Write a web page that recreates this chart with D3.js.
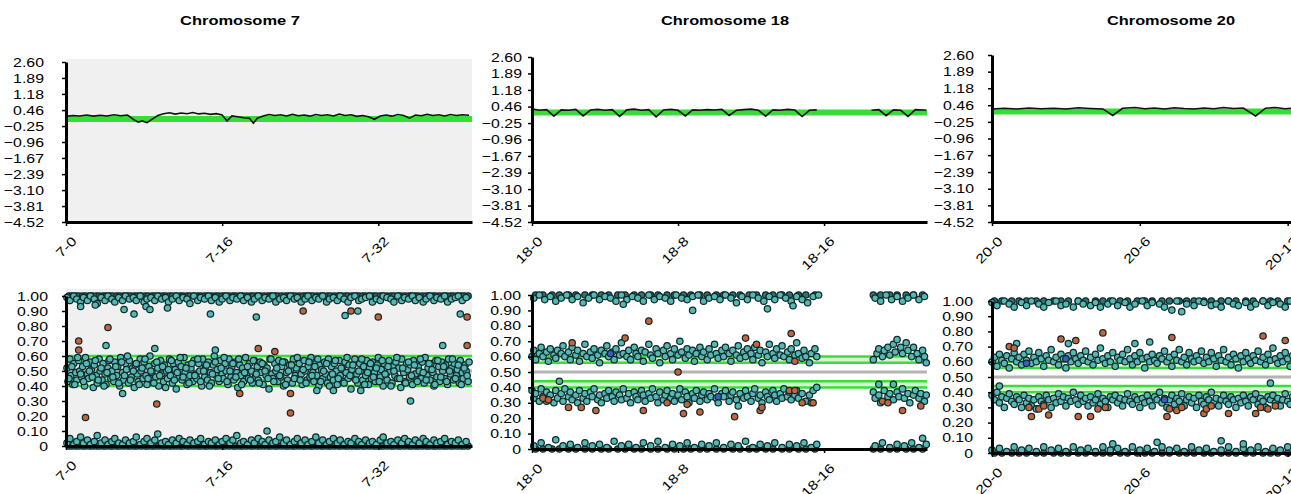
<!DOCTYPE html>
<html>
<head>
<meta charset="utf-8">
<script src="https://cdn.jsdelivr.net/npm/d3@7"></script>
<style>
  body { margin: 0; background: #fff; }
  svg { display: block; }
</style>
</head>
<body>
<svg id="chart" width="1291" height="494"></svg>
<script>
// ---- data ----
const lrrTicks = [2.60, 1.89, 1.18, 0.46, -0.25, -0.96, -1.67, -2.39, -3.10, -3.81, -4.52];
const bafTicks = [0, 0.1, 0.2, 0.3, 0.4, 0.5, 0.6, 0.7, 0.8, 0.9, 1.0];
const bafLines = [0.60, 0.56, 0.44, 0.40];
const bafMid = 0.50;

const chr7Ticks = [0, 16, 32];
const chr18Ticks = [0, 8, 16];
const chr20Ticks = [0, 6, 12];

// segment means (green) in the log-ratio panels
const chr7Seg = 0.06, chr18Seg = 0.20, chr20Seg = 0.19;

// log ratio traces [position, value]; null = no probes
const chr7Lrr = [[0,.18],[0.7,.22],[1.4,.2],[2.1,.24],[2.8,.19],[3.5,.23],[4.2,.2],[4.9,.25],[5.6,.21],[6.3,.24],[7.0,.02],[7.4,-.08],[7.8,-.02],[8.3,-.1],[8.8,.05],[9.4,.22],[10.0,.3],[10.6,.34],[11.2,.28],[11.8,.33],[12.4,.3],[13.0,.35],[13.6,.29],[14.2,.32],[14.8,.27],[15.4,.3],[16.0,.24],[16.5,-.03],[17.0,.2],[17.6,.16],[18.2,.12],[18.8,.1],[19.2,-.12],[19.6,.1],[20.2,.2],[20.8,.26],[21.4,.22],[22.0,.25],[22.6,.2],[23.2,.27],[23.8,.21],[24.4,.24],[25.0,.19],[25.6,.26],[26.2,.22],[26.8,.25],[27.4,.2],[28.0,.28],[28.6,.22],[29.2,.25],[29.8,.18],[30.4,.22],[31.0,.16],[31.6,.05],[32.2,.2],[32.8,.24],[33.4,.19],[34.0,.26],[34.6,.22],[35.2,.1],[35.8,.24],[36.4,.21],[37.0,.27],[37.6,.22],[38.2,.25],[38.8,.2],[39.4,.26],[40.0,.22],[40.6,.25],[41.3,.23]];
const chr18Lrr = [[0,.36],[0.4,.3],[0.8,.33],[1.2,.05],[1.6,.32],[2.0,.3],[2.4,.34],[2.8,.06],[3.2,.31],[3.6,.34],[4.0,.3],[4.4,.33],[4.8,.04],[5.2,.32],[5.6,.35],[6.0,.3],[6.4,.33],[6.8,.02],[7.2,.31],[7.6,.34],[8.0,.3],[8.4,.06],[8.8,.32],[9.2,.3],[9.6,.33],[10.0,.31],[10.4,.34],[10.8,.08],[11.2,.3],[11.6,.33],[12.0,.35],[12.4,.3],[12.8,.05],[13.2,.32],[13.6,.3],[14.0,.34],[14.4,.31],[14.8,.03],[15.2,.3],[15.6,.32],[15.7,null],[18.6,.3],[19.0,.33],[19.4,.07],[19.8,.32],[20.2,.3],[20.6,.04],[21.0,.33],[21.4,.31],[21.6,.3]];
const chr20Lrr = [[0,.3],[0.5,.33],[1.0,.3],[1.5,.34],[2.0,.31],[2.5,.33],[3.0,.3],[3.5,.35],[4.0,.32],[4.5,.3],[4.9,.02],[5.3,.33],[5.8,.36],[6.2,.31],[6.6,.34],[7.0,.3],[7.4,.35],[7.8,.32],[8.2,.3],[8.6,.34],[9.0,.31],[9.4,.36],[9.8,.32],[10.2,.34],[10.7,.0],[11.1,.33],[11.5,.36],[11.9,.31],[12.3,.34],[12.5,.32]];

// B-allele frequency, chromosome 7 [position, baf]
const chr7Hom = [0.3,0.6,1.0,1.3,1.7,2.0,2.4,2.7,3.1,3.4,3.8,4.1,4.5,4.8,5.2,5.5,5.9,6.3,6.6,7.0,7.3,7.7,8.1,8.4,8.8,9.1,9.5,9.9,10.2,10.6,10.9,11.3,11.7,12.0,12.4,12.7,13.1,13.5,13.8,14.2,14.5,14.9,15.3,15.6,16.0,16.3,16.7,17.1,17.4,17.8,18.1,18.5,18.9,19.2,19.6,19.9,20.3,20.7,21.0,21.4,21.7,22.1,22.5,22.8,23.2,23.5,23.9,24.3,24.6,25.0,25.3,25.7,26.1,26.4,26.8,27.1,27.5,27.9,28.2,28.6,28.9,29.3,29.7,30.0,30.4,30.7,31.1,31.5,31.8,32.2,32.5,32.9,33.3,33.6,34.0,34.3,34.7,35.1,35.4,35.8,36.1,36.5,36.9,37.2,37.6,37.9,38.3,38.7,39.0,39.4,39.7,40.1,40.5,40.8,41.2];
const chr7Top = [[0.1,.99],[0.4,.97],[0.8,1],[1.1,.98],[1.5,.96],[1.8,.99],[2.2,.97],[2.5,1],[2.9,.98],[3.2,.95],[3.6,.99],[4.0,.97],[4.3,1],[4.7,.98],[5.0,.96],[5.4,.99],[5.8,.97],[6.1,1],[6.5,.98],[6.9,.99],[7.2,.97],[7.6,1],[8.0,.96],[8.3,.98],[8.7,.99],[9.1,.97],[9.4,1],[9.8,.98],[10.2,.99],[10.5,.96],[10.9,.98],[11.3,1],[11.6,.97],[12.0,.99],[12.4,.98],[12.7,.95],[13.1,1],[13.5,.97],[13.8,.99],[14.2,.98],[14.6,1],[14.9,.97],[15.3,.99],[15.7,.96],[16.0,.98],[16.4,1],[16.8,.97],[17.1,.99],[17.5,.98],[17.9,1],[18.2,.97],[18.6,.99],[19.0,.96],[19.3,.98],[19.7,1],[20.1,.97],[20.4,.99],[20.8,.98],[21.2,1],[21.5,.96],[21.9,.98],[22.3,.99],[22.6,.97],[23.0,1],[23.4,.98],[23.7,.99],[24.1,.96],[24.5,.98],[24.8,1],[25.2,.97],[25.6,.99],[25.9,.98],[26.3,1],[26.7,.96],[27.0,.98],[27.4,.99],[27.8,.97],[28.1,1],[28.5,.98],[28.9,.96],[29.2,.99],[29.6,1],[30.0,.97],[30.3,.98],[30.7,.99],[31.1,1],[31.4,.96],[31.8,.98],[32.2,.97],[32.5,1],[32.9,.99],[33.3,.98],[33.6,.96],[34.0,1],[34.4,.97],[34.7,.99],[35.1,.98],[35.5,1],[35.8,.97],[36.2,.99],[36.6,.96],[36.9,.98],[37.3,1],[37.7,.97],[38.0,.99],[38.4,.98],[38.8,1],[39.1,.96],[39.5,.98],[39.9,.99],[40.2,1],[40.6,.97],[41.0,.99]];
const chr7Het = [[0.1,.52],[0.2,.43],[0.4,.58],[0.5,.47],[0.7,.41],[0.8,.55],[1.0,.49],[1.1,.44],[1.3,.57],[1.4,.5],[1.6,.46],[1.7,.53],[1.9,.4],[2.0,.59],[2.2,.48],[2.3,.45],[2.5,.56],[2.6,.51],[2.8,.39],[2.9,.54],[3.1,.47],[3.2,.42],[3.4,.58],[3.5,.5],[3.7,.44],[3.8,.55],[4.0,.48],[4.1,.41],[4.3,.52],[4.4,.57],[4.6,.45],[4.7,.5],[4.9,.43],[5.0,.56],[5.2,.47],[5.3,.53],[5.5,.4],[5.6,.59],[5.8,.49],[5.9,.44],[6.1,.55],[6.2,.51],[6.4,.42],[6.5,.57],[6.7,.46],[6.8,.52],[7.0,.39],[7.1,.54],[7.3,.48],[7.4,.43],[7.6,.58],[7.7,.5],[7.9,.45],[8.0,.56],[8.2,.47],[8.3,.41],[8.5,.53],[8.6,.6],[8.8,.49],[8.9,.44],[9.1,.55],[9.2,.46],[9.4,.52],[9.5,.4],[9.7,.57],[9.8,.48],[10.0,.43],[10.1,.54],[10.3,.5],[10.4,.45],[10.6,.58],[10.7,.47],[10.9,.42],[11.0,.55],[11.2,.51],[11.3,.38],[11.5,.56],[11.6,.46],[11.8,.53],[11.9,.44],[12.1,.59],[12.2,.49],[12.4,.41],[12.5,.54],[12.7,.47],[12.8,.52],[13.0,.43],[13.1,.57],[13.3,.48],[13.4,.45],[13.6,.55],[13.7,.5],[13.9,.4],[14.0,.58],[14.2,.46],[14.3,.53],[14.5,.44],[14.6,.56],[14.8,.49],[14.9,.42],[15.1,.54],[15.2,.6],[15.4,.47],[15.5,.51],[15.7,.43],[15.8,.57],[16.0,.48],[16.1,.45],[16.3,.55],[16.4,.5],[16.6,.41],[16.7,.58],[16.9,.46],[17.0,.53],[17.2,.44],[17.3,.56],[17.5,.49],[17.6,.39],[17.8,.54],[17.9,.47],[18.1,.52],[18.2,.43],[18.4,.59],[18.5,.48],[18.7,.45],[18.8,.55],[19.0,.5],[19.1,.42],[19.3,.57],[19.4,.46],[19.6,.53],[19.7,.44],[19.9,.56],[20.0,.49],[20.2,.41],[20.3,.54],[20.5,.47],[20.6,.52],[20.8,.38],[20.9,.58],[21.1,.48],[21.2,.45],[21.4,.55],[21.5,.5],[21.7,.43],[21.8,.57],[22.0,.46],[22.1,.53],[22.3,.4],[22.4,.56],[22.6,.49],[22.7,.44],[22.9,.54],[23.0,.51],[23.2,.42],[23.3,.58],[23.5,.47],[23.6,.52],[23.8,.45],[23.9,.55],[24.1,.48],[24.2,.41],[24.4,.57],[24.5,.5],[24.7,.44],[24.8,.53],[25.0,.46],[25.1,.59],[25.3,.49],[25.4,.43],[25.6,.55],[25.7,.47],[25.9,.4],[26.0,.54],[26.2,.51],[26.3,.45],[26.5,.56],[26.6,.48],[26.8,.42],[26.9,.58],[27.1,.46],[27.2,.53],[27.4,.44],[27.5,.55],[27.7,.5],[27.8,.41],[28.0,.57],[28.1,.47],[28.3,.52],[28.4,.43],[28.6,.56],[28.7,.49],[28.9,.45],[29.0,.54],[29.2,.38],[29.3,.51],[29.5,.46],[29.6,.58],[29.8,.48],[29.9,.42],[30.1,.55],[30.2,.5],[30.4,.44],[30.5,.53],[30.7,.47],[30.8,.57],[31.0,.41],[31.1,.52],[31.3,.45],[31.4,.56],[31.6,.49],[31.7,.43],[31.9,.54],[32.0,.59],[32.2,.46],[32.3,.51],[32.5,.4],[32.6,.55],[32.8,.48],[32.9,.44],[33.1,.57],[33.2,.5],[33.4,.42],[33.5,.53],[33.7,.47],[33.8,.56],[34.0,.45],[34.1,.52],[34.3,.39],[34.4,.58],[34.6,.49],[34.7,.43],[34.9,.55],[35.0,.51],[35.2,.46],[35.3,.54],[35.5,.41],[35.6,.57],[35.8,.48],[35.9,.44],[36.1,.53],[36.2,.5],[36.4,.45],[36.5,.56],[36.7,.42],[36.8,.59],[37.0,.47],[37.1,.52],[37.3,.44],[37.4,.55],[37.6,.49],[37.7,.4],[37.9,.57],[38.0,.46],[38.2,.53],[38.3,.43],[38.5,.56],[38.6,.5],[38.8,.45],[38.9,.54],[39.1,.41],[39.2,.58],[39.4,.48],[39.5,.52],[39.7,.44],[39.8,.55],[40.0,.47],[40.1,.51],[40.3,.42],[40.4,.57],[40.6,.49],[40.7,.45],[40.9,.54],[41.0,.5],[41.2,.43],[41.3,.56]];
const chr7Het2 = [[0.3,.45],[0.6,.53],[0.9,.41],[1.2,.59],[1.5,.48],[1.8,.43],[2.1,.55],[2.4,.5],[2.7,.46],[3.0,.57],[3.3,.44],[3.6,.52],[3.9,.4],[4.2,.49],[4.5,.58],[4.8,.46],[5.1,.53],[5.4,.42],[5.7,.56],[6.0,.47],[6.3,.6],[6.6,.44],[6.9,.5],[7.2,.55],[7.5,.41],[7.8,.52],[8.1,.58],[8.4,.45],[8.7,.5],[9.0,.42],[9.3,.56],[9.6,.47],[9.9,.53],[10.2,.39],[10.5,.51],[10.8,.57],[11.1,.44],[11.4,.49],[11.7,.59],[12.0,.46],[12.3,.52],[12.6,.42],[12.9,.55],[13.2,.47],[13.5,.58],[13.8,.43],[14.1,.5],[14.4,.54],[14.7,.4],[15.0,.48],[15.3,.56],[15.6,.45],[15.9,.52],[16.2,.59],[16.5,.43],[16.8,.5],[17.1,.55],[17.4,.46],[17.7,.58],[18.0,.41],[18.3,.49],[18.6,.53],[18.9,.44],[19.2,.57],[19.5,.48],[19.8,.42],[20.1,.55],[20.4,.5],[20.7,.45],[21.0,.58],[21.3,.43],[21.6,.52],[21.9,.47],[22.2,.56],[22.5,.41],[22.8,.5],[23.1,.54],[23.4,.45],[23.7,.59],[24.0,.44],[24.3,.51],[24.6,.42],[24.9,.56],[25.2,.47],[25.5,.53],[25.8,.58],[26.1,.43],[26.4,.5],[26.7,.55],[27.0,.4],[27.3,.48],[27.6,.57],[27.9,.45],[28.2,.52],[28.5,.42],[28.8,.59],[29.1,.47],[29.4,.54],[29.7,.44],[30.0,.5],[30.3,.58],[30.6,.41],[30.9,.49],[31.2,.55],[31.5,.46],[31.8,.52],[32.1,.43],[32.4,.57],[32.7,.48],[33.0,.53],[33.3,.4],[33.6,.5],[33.9,.59],[34.2,.45],[34.5,.52],[34.8,.42],[35.1,.56],[35.4,.47],[35.7,.54],[36.0,.43],[36.3,.58],[36.6,.49],[36.9,.44],[37.2,.55],[37.5,.51],[37.8,.41],[38.1,.57],[38.4,.46],[38.7,.53],[39.0,.43],[39.3,.5],[39.6,.58],[39.9,.45],[40.2,.54],[40.5,.41],[40.8,.52],[41.1,.47]];
const chr7Bot = [[0.1,.02],[0.4,.05],[0.8,.01],[1.1,.03],[1.5,.06],[1.8,.02],[2.2,.04],[2.5,.01],[2.9,.03],[3.2,.07],[3.6,.02],[4.0,.04],[4.3,.01],[4.7,.03],[5.0,.05],[5.4,.02],[5.8,.01],[6.1,.04],[6.5,.02],[6.9,.03],[7.2,.06],[7.6,.01],[8.0,.03],[8.3,.05],[8.7,.02],[9.1,.04],[9.4,.08],[9.8,.02],[10.2,.03],[10.5,.01],[10.9,.04],[11.3,.02],[11.6,.05],[12.0,.03],[12.4,.01],[12.7,.04],[13.1,.02],[13.5,.03],[13.8,.05],[14.2,.01],[14.6,.03],[14.9,.02],[15.3,.04],[15.7,.01],[16.0,.03],[16.4,.05],[16.8,.02],[17.1,.04],[17.5,.07],[17.9,.02],[18.2,.03],[18.6,.01],[19.0,.04],[19.3,.02],[19.7,.05],[20.1,.03],[20.4,.01],[20.8,.04],[21.2,.02],[21.5,.03],[21.9,.06],[22.3,.02],[22.6,.04],[23.0,.01],[23.4,.03],[23.7,.05],[24.1,.02],[24.5,.04],[24.8,.01],[25.2,.03],[25.6,.06],[25.9,.02],[26.3,.04],[26.7,.01],[27.0,.03],[27.4,.05],[27.8,.02],[28.1,.04],[28.5,.01],[28.9,.03],[29.2,.02],[29.6,.05],[30.0,.03],[30.3,.01],[30.7,.04],[31.1,.02],[31.4,.03],[31.8,.01],[32.2,.04],[32.5,.06],[32.9,.02],[33.3,.03],[33.6,.01],[34.0,.04],[34.4,.02],[34.7,.05],[35.1,.03],[35.5,.01],[35.8,.04],[36.2,.02],[36.6,.05],[36.9,.03],[37.3,.01],[37.7,.04],[38.0,.02],[38.4,.03],[38.8,.05],[39.1,.01],[39.5,.03],[39.9,.02],[40.2,.04],[40.6,.01],[41.0,.03]];
const chr7Out = [[5.95,.91,'t'],[6.97,.88,'t'],[14.8,.88,'t'],[19.5,.86,'t'],[24.3,.9,'r'],[28.6,.87,'t'],[29.2,.9,'r'],[29.9,.9,'t'],[32.0,.86,'r'],[40.4,.88,'t'],[41.1,.86,'r'],[1.3,.7,'r'],[1.3,.64,'r'],[4.3,.79,'r'],[2.0,.19,'r'],[9.3,.28,'r'],[19.7,.65,'r'],[21.4,.63,'r'],[23.0,.35,'r'],[23.0,.22,'r'],[17.8,.35,'r'],[41.1,.67,'r'],[4.1,.67,'t'],[5.8,.35,'t'],[9.1,.65,'t'],[15.3,.64,'t'],[35.3,.3,'t'],[38.6,.67,'t'],[20.6,.1,'t'],[25.7,.37,'t'],[27.4,.37,'t'],[30.2,.37,'t'],[1.5,.93,'t'],[3.0,.94,'t'],[8.2,.93,'t'],[8.6,.91,'t'],[10.4,.92,'t']];

// chromosome 18
const chr18Hom = [0.2,0.6,1.1,1.5,2.0,2.4,2.9,3.3,3.8,4.2,4.7,5.1,5.6,6.0,6.5,6.9,7.4,7.8,8.3,8.7,9.2,9.6,10.1,10.5,11.0,11.4,11.9,12.3,12.8,13.2,13.7,14.1,14.6,15.0,15.5,18.7,19.1,19.6,20.0,20.5,20.9,21.4];
const chr18Top = [[0.1,.98],[0.4,1],[0.7,.97],[1.0,.99],[1.3,.96],[1.6,.98],[1.9,1],[2.2,.97],[2.5,.99],[2.8,.95],[3.1,.98],[3.4,1],[3.7,.97],[4.0,.99],[4.3,.98],[4.6,.96],[4.9,1],[5.2,.97],[5.5,.99],[5.8,.98],[6.1,.96],[6.4,1],[6.7,.97],[7.0,.99],[7.3,.98],[7.6,.96],[7.9,1],[8.2,.98],[8.5,.97],[8.8,.99],[9.1,1],[9.4,.96],[9.7,.98],[10.0,.99],[10.3,.97],[10.6,1],[10.9,.98],[11.2,.95],[11.5,.99],[11.8,.97],[12.1,1],[12.4,.98],[12.7,.96],[13.0,.99],[13.3,.97],[13.6,1],[13.9,.98],[14.2,.96],[14.5,.99],[14.8,.97],[15.1,.95],[15.4,.99],[15.7,1],[18.8,.98],[19.1,.96],[19.4,1],[19.7,.97],[20.0,.99],[20.3,.96],[20.6,.98],[20.9,1],[21.2,.97],[21.5,.99]];
const chr18Up = [[0.0,.6],[0.1,.64],[0.2,.58],[0.4,.62],[0.5,.66],[0.6,.6],[0.8,.63],[0.9,.57],[1.0,.65],[1.2,.61],[1.3,.59],[1.4,.64],[1.6,.62],[1.7,.67],[1.8,.6],[2.0,.63],[2.1,.58],[2.2,.66],[2.4,.61],[2.5,.64],[2.6,.57],[2.8,.62],[2.9,.68],[3.0,.6],[3.2,.63],[3.3,.59],[3.4,.65],[3.6,.61],[3.7,.56],[3.8,.64],[4.0,.62],[4.1,.67],[4.2,.6],[4.4,.63],[4.5,.58],[4.6,.65],[4.8,.61],[4.9,.69],[5.0,.62],[5.2,.6],[5.3,.64],[5.4,.58],[5.6,.66],[5.7,.62],[5.8,.6],[6.0,.64],[6.1,.57],[6.2,.63],[6.4,.68],[6.5,.61],[6.6,.59],[6.8,.65],[6.9,.62],[7.0,.56],[7.2,.64],[7.3,.6],[7.4,.67],[7.6,.62],[7.7,.58],[7.8,.65],[8.0,.61],[8.1,.7],[8.2,.63],[8.4,.59],[8.5,.65],[8.6,.61],[8.8,.64],[8.9,.57],[9.0,.62],[9.2,.66],[9.3,.6],[9.4,.63],[9.6,.58],[9.7,.65],[9.8,.61],[10.0,.68],[10.1,.62],[10.2,.59],[10.4,.64],[10.5,.6],[10.6,.66],[10.8,.62],[10.9,.57],[11.0,.64],[11.2,.61],[11.3,.67],[11.4,.59],[11.6,.63],[11.7,.6],[11.8,.65],[12.0,.62],[12.1,.58],[12.2,.66],[12.4,.61],[12.5,.64],[12.6,.56],[12.8,.63],[12.9,.6],[13.0,.68],[13.2,.62],[13.3,.59],[13.4,.65],[13.6,.61],[13.7,.67],[13.8,.6],[14.0,.63],[14.1,.58],[14.2,.65],[14.4,.61],[14.5,.69],[14.6,.62],[14.8,.59],[14.9,.64],[15.0,.6],[15.2,.56],[15.3,.62],[15.5,.65],[15.6,.6],[18.7,.58],[18.9,.62],[19.0,.65],[19.2,.6],[19.3,.64],[19.5,.66],[19.6,.61],[19.8,.68],[19.9,.63],[20.0,.71],[20.2,.66],[20.3,.62],[20.5,.69],[20.6,.64],[20.8,.6],[20.9,.66],[21.1,.62],[21.2,.58],[21.4,.64],[21.5,.6],[21.6,.56]];
const chr18Lo = [[0.0,.38],[0.1,.33],[0.2,.36],[0.4,.31],[0.5,.39],[0.6,.34],[0.8,.37],[0.9,.32],[1.0,.35],[1.2,.3],[1.3,.38],[1.4,.33],[1.6,.36],[1.7,.31],[1.8,.39],[2.0,.34],[2.1,.37],[2.2,.32],[2.4,.35],[2.5,.3],[2.6,.38],[2.8,.33],[2.9,.36],[3.0,.31],[3.2,.37],[3.3,.34],[3.4,.39],[3.6,.32],[3.7,.35],[3.8,.3],[4.0,.36],[4.1,.33],[4.2,.38],[4.4,.34],[4.5,.31],[4.6,.37],[4.8,.35],[4.9,.32],[5.0,.39],[5.2,.33],[5.3,.36],[5.4,.3],[5.6,.37],[5.7,.34],[5.8,.32],[6.0,.38],[6.1,.35],[6.2,.31],[6.4,.36],[6.5,.33],[6.6,.39],[6.8,.34],[6.9,.3],[7.0,.37],[7.2,.32],[7.3,.35],[7.4,.38],[7.6,.33],[7.7,.36],[7.8,.31],[8.0,.35],[8.1,.39],[8.2,.32],[8.4,.37],[8.5,.34],[8.6,.3],[8.8,.36],[8.9,.33],[9.0,.38],[9.2,.31],[9.3,.35],[9.4,.37],[9.6,.32],[9.7,.36],[9.8,.34],[10.0,.39],[10.1,.33],[10.2,.3],[10.4,.36],[10.5,.34],[10.6,.38],[10.8,.31],[10.9,.35],[11.0,.37],[11.2,.32],[11.3,.28],[11.4,.36],[11.6,.33],[11.7,.38],[11.8,.34],[12.0,.31],[12.1,.36],[12.2,.39],[12.4,.33],[12.5,.35],[12.6,.3],[12.8,.37],[12.9,.34],[13.0,.32],[13.2,.38],[13.3,.35],[13.4,.31],[13.6,.36],[13.7,.33],[13.8,.39],[14.0,.34],[14.1,.37],[14.2,.32],[14.4,.35],[14.5,.38],[14.6,.33],[14.8,.36],[15.0,.31],[15.2,.35],[15.4,.38],[15.6,.4],[18.7,.37],[18.8,.33],[19.0,.35],[19.1,.3],[19.3,.38],[19.5,.34],[19.6,.36],[19.8,.32],[20.0,.37],[20.1,.34],[20.3,.39],[20.4,.33],[20.6,.36],[20.7,.3],[20.9,.35],[21.0,.38],[21.2,.33],[21.3,.36],[21.5,.31],[21.6,.35]];
const chr18Bot = [[0.1,.02],[0.5,.04],[0.9,.01],[1.3,.06],[1.7,.02],[2.1,.03],[2.5,.01],[2.9,.04],[3.3,.02],[3.7,.03],[4.1,.01],[4.5,.05],[4.9,.02],[5.3,.03],[5.7,.01],[6.1,.04],[6.5,.02],[6.9,.05],[7.3,.01],[7.7,.03],[8.1,.02],[8.5,.04],[8.9,.01],[9.3,.03],[9.7,.02],[10.1,.04],[10.5,.01],[10.9,.03],[11.3,.02],[11.7,.05],[12.1,.01],[12.5,.03],[12.9,.02],[13.3,.04],[13.7,.01],[14.1,.03],[14.5,.02],[14.9,.04],[15.3,.01],[15.6,.03],[18.8,.02],[19.2,.04],[19.6,.01],[20.0,.03],[20.4,.02],[20.8,.04],[21.2,.01],[21.6,.03]];
const chr18Out = [[5.0,.94,'t'],[6.4,.83,'r'],[8.8,.9,'t'],[12.9,.91,'t'],[14.3,.93,'t'],[14.2,.75,'r'],[8.0,.5,'r'],[1.5,.44,'t'],[11.1,.21,'r'],[12.5,.25,'r'],[12.6,.27,'r'],[21.4,.07,'t'],[19.0,.42,'t'],[19.8,.42,'t'],[0.8,.31,'r'],[2.0,.27,'r'],[2.7,.27,'r'],[3.5,.25,'r'],[6.1,.25,'r'],[8.3,.23,'r'],[9.2,.24,'r'],[20.3,.25,'r'],[21.3,.28,'r'],[14.8,.3,'r'],[14.1,.38,'r'],[14.4,.38,'r'],[2.2,.69,'r'],[5.1,.72,'r'],[11.7,.72,'r'],[12.3,.68,'r'],[14.4,.57,'r'],[0.6,.33,'r'],[0.9,.32,'r'],[7.4,.3,'r'],[8.5,.29,'r'],[15.3,.3,'r'],[15.4,.3,'r'],[19.2,.31,'r'],[19.5,.3,'r'],[4.3,.62,'b'],[10.2,.34,'b']];

// chromosome 20
const chr20Hom = [0.1,0.4,0.8,1.1,1.4,1.8,2.1,2.5,2.8,3.1,3.5,3.8,4.2,4.5,4.8,5.2,5.5,5.9,6.2,6.5,6.9,7.2,7.6,7.9,8.2,8.6,8.9,9.3,9.6,9.9,10.3,10.6,11.0,11.3,11.6,12.0,12.3];
const chr20Top = [[0.0,.99],[0.2,.97],[0.5,1],[0.7,.98],[0.9,.96],[1.2,.99],[1.4,.97],[1.6,1],[1.9,.98],[2.1,.96],[2.3,.99],[2.6,1],[2.8,.97],[3.0,.98],[3.3,.96],[3.5,1],[3.7,.98],[4.0,.97],[4.2,.99],[4.4,.96],[4.7,.98],[4.9,1],[5.1,.97],[5.4,.99],[5.6,.96],[5.8,.98],[6.1,1],[6.3,.97],[6.5,.99],[6.8,.98],[7.0,.96],[7.3,.94],[7.5,1],[7.7,.93],[7.9,.98],[8.2,.97],[8.4,1],[8.6,.99],[8.9,.97],[9.1,.98],[9.3,.96],[9.6,1],[9.8,.98],[10.0,.97],[10.3,.99],[10.5,.96],[10.7,.98],[11.0,1],[11.2,.97],[11.4,.99],[11.7,.98],[11.9,.96],[12.1,1],[12.4,.97]];
const chr20Up = [[0.0,.6],[0.1,.63],[0.2,.57],[0.3,.65],[0.4,.61],[0.5,.59],[0.6,.64],[0.7,.56],[0.8,.62],[0.9,.66],[1.0,.6],[1.1,.63],[1.2,.58],[1.3,.65],[1.4,.61],[1.5,.67],[1.6,.59],[1.7,.63],[1.8,.6],[1.9,.66],[2.0,.62],[2.1,.57],[2.2,.64],[2.3,.61],[2.4,.68],[2.5,.6],[2.6,.63],[2.7,.58],[2.8,.65],[2.9,.62],[3.0,.56],[3.1,.64],[3.2,.6],[3.3,.66],[3.4,.62],[3.5,.59],[3.6,.64],[3.7,.61],[3.8,.67],[3.9,.6],[4.0,.63],[4.1,.58],[4.2,.65],[4.3,.61],[4.4,.69],[4.5,.62],[4.6,.59],[4.7,.64],[4.8,.6],[4.9,.66],[5.0,.57],[5.1,.63],[5.2,.61],[5.3,.65],[5.4,.6],[5.5,.68],[5.6,.62],[5.7,.58],[5.8,.64],[5.9,.6],[6.0,.66],[6.1,.62],[6.2,.56],[6.3,.63],[6.4,.6],[6.5,.65],[6.6,.61],[6.7,.59],[6.8,.64],[6.9,.62],[7.0,.67],[7.1,.6],[7.2,.63],[7.3,.57],[7.4,.65],[7.5,.61],[7.6,.68],[7.7,.6],[7.8,.63],[7.9,.58],[8.0,.66],[8.1,.62],[8.2,.6],[8.3,.64],[8.4,.61],[8.5,.67],[8.6,.59],[8.7,.63],[8.8,.6],[8.9,.66],[9.0,.62],[9.1,.57],[9.2,.64],[9.3,.61],[9.4,.68],[9.5,.6],[9.6,.63],[9.7,.58],[9.8,.65],[9.9,.62],[10.0,.56],[10.1,.64],[10.2,.6],[10.3,.66],[10.4,.62],[10.5,.59],[10.6,.64],[10.7,.61],[10.8,.67],[10.9,.6],[11.0,.63],[11.1,.58],[11.2,.65],[11.3,.61],[11.4,.69],[11.5,.62],[11.6,.59],[11.7,.64],[11.8,.6],[11.9,.66],[12.0,.62],[12.1,.57],[12.2,.64],[12.3,.61],[12.4,.65],[12.5,.6]];
const chr20Lo = [[0.0,.38],[0.1,.35],[0.2,.4],[0.3,.33],[0.4,.37],[0.5,.3],[0.6,.36],[0.7,.39],[0.8,.34],[0.9,.32],[1.0,.37],[1.1,.35],[1.2,.3],[1.3,.38],[1.4,.33],[1.5,.36],[1.6,.31],[1.7,.35],[1.8,.29],[1.9,.37],[2.0,.34],[2.1,.32],[2.2,.38],[2.3,.35],[2.4,.3],[2.5,.36],[2.6,.33],[2.7,.39],[2.8,.34],[2.9,.37],[3.0,.31],[3.1,.36],[3.2,.34],[3.3,.4],[3.4,.35],[3.5,.32],[3.6,.38],[3.7,.34],[3.8,.36],[3.9,.31],[4.0,.37],[4.1,.33],[4.2,.35],[4.3,.39],[4.4,.32],[4.5,.36],[4.6,.34],[4.7,.3],[4.8,.37],[4.9,.35],[5.0,.38],[5.1,.33],[5.2,.36],[5.3,.31],[5.4,.35],[5.5,.39],[5.6,.34],[5.7,.32],[5.8,.37],[5.9,.35],[6.0,.3],[6.1,.36],[6.2,.33],[6.3,.38],[6.4,.34],[6.5,.31],[6.6,.37],[6.7,.35],[6.8,.4],[6.9,.33],[7.0,.36],[7.1,.3],[7.2,.35],[7.3,.38],[7.4,.32],[7.5,.36],[7.6,.34],[7.7,.39],[7.8,.31],[7.9,.35],[8.0,.37],[8.1,.33],[8.2,.36],[8.3,.3],[8.4,.38],[8.5,.34],[8.6,.32],[8.7,.37],[8.8,.35],[8.9,.4],[9.0,.33],[9.1,.36],[9.2,.31],[9.3,.35],[9.4,.38],[9.5,.34],[9.6,.32],[9.7,.37],[9.8,.35],[9.9,.3],[10.0,.36],[10.1,.33],[10.2,.38],[10.3,.34],[10.4,.31],[10.5,.37],[10.6,.35],[10.7,.39],[10.8,.32],[10.9,.36],[11.0,.34],[11.1,.3],[11.2,.37],[11.3,.35],[11.4,.38],[11.5,.33],[11.6,.36],[11.7,.31],[11.8,.35],[11.9,.39],[12.0,.34],[12.1,.32],[12.2,.37],[12.3,.35],[12.4,.4],[12.5,.33]];
const chr20Bot = [[0.0,.02],[0.3,.03],[0.6,.01],[0.9,.04],[1.2,.02],[1.5,.03],[1.8,.01],[2.1,.04],[2.4,.02],[2.7,.03],[3.0,.01],[3.3,.04],[3.6,.02],[3.9,.03],[4.2,.01],[4.5,.04],[4.8,.02],[5.1,.03],[5.4,.01],[5.7,.04],[6.0,.02],[6.3,.03],[6.6,.01],[6.9,.04],[7.2,.02],[7.5,.03],[7.8,.01],[8.1,.04],[8.4,.02],[8.7,.03],[9.0,.01],[9.3,.02],[9.6,.04],[9.9,.01],[10.2,.03],[10.5,.02],[10.8,.04],[11.1,.01],[11.4,.03],[11.7,.02],[12.0,.04],[12.3,.01]];
const chr20Out = [[0.7,.7,'r'],[2.8,.75,'r'],[4.5,.79,'r'],[7.3,.76,'r'],[11.0,.77,'r'],[11.9,.74,'r'],[6.4,.73,'t'],[3.5,.24,'r'],[4.0,.24,'r'],[1.6,.24,'r'],[2.3,.25,'r'],[7.1,.24,'r'],[9.6,.26,'r'],[10.7,.26,'r'],[8.6,.26,'r'],[1.5,.3,'r'],[1.9,.29,'r'],[2.1,.31,'r'],[4.3,.29,'r'],[4.6,.3,'r'],[7.2,.29,'r'],[7.5,.28,'r'],[7.7,.3,'r'],[8.7,.29,'r'],[8.9,.31,'r'],[10.9,.3,'r'],[11.2,.29,'r'],[11.5,.31,'r'],[6.7,.07,'t'],[9.3,.08,'t'],[4.9,.06,'t'],[10.2,.06,'t'],[11.3,.46,'t'],[0.3,.44,'t'],[1.0,.72,'t'],[3.1,.72,'t'],[5.8,.72,'t'],[3.4,.74,'r'],[0.9,.69,'r'],[3.0,.62,'b'],[1.4,.59,'b'],[7.0,.35,'b']];

// ---- layout ----
const svg = d3.select("#chart");
const width = 1291, height = 494;
svg.append("rect").attr("width", width).attr("height", height).attr("fill", "#fff");

const panels = [
  { title: "Chromosome 7", chr: "7", xMax: 41.6, ticks: chr7Ticks, x0: 66, x1: 472, titleX: 240, titleW: 120,
    topY: [222, 62], botY: [446, 296], gapTop: 22, gapBot: 18, shade: "#f0f0f0",
    lrr: chr7Lrr, seg: chr7Seg, hom: chr7Hom, bands: [chr7Top, chr7Het, chr7Het2, chr7Bot], out: chr7Out },
  { title: "Chromosome 18", chr: "18", xMax: 21.64, ticks: chr18Ticks, x0: 532, x1: 927, titleX: 725, titleW: 128,
    topY: [222, 57], botY: [449, 295], gapTop: 10, gapBot: 11, shade: null,
    lrr: chr18Lrr, seg: chr18Seg, hom: chr18Hom, bands: [chr18Top, chr18Up, chr18Lo, chr18Bot], out: chr18Out },
  { title: "Chromosome 20", chr: "20", xMax: 12.5, ticks: chr20Ticks, x0: 992, x1: 1300, titleX: 1171, titleW: 128,
    topY: [222, 55], botY: [453, 301], gapTop: 18, gapBot: 19, shade: null,
    lrr: chr20Lrr, seg: chr20Seg, hom: chr20Hom, bands: [chr20Top, chr20Up, chr20Lo, chr20Bot], out: chr20Out }
];

const font = "'Liberation Sans', Arial, sans-serif";
const fills = { t: "#55b8b5", r: "#c4633f", b: "#3a5cc4", h: "#2f7471" };
const sx = 1.22; // the source image is stretched horizontally

function styleAxis(ax) {
  ax.select(".domain").attr("stroke", "#000").attr("stroke-width", 3);
  ax.selectAll(".tick line").attr("stroke", "#000").attr("stroke-width", 1.5);
  ax.selectAll("text").attr("fill", "#000").attr("font-family", font).attr("font-size", "13px");
}

function yAxisDraw(g, y, p, ticks, fmt, gap) {
  const ax = g.append("g").attr("transform", `translate(${p.x0},0)`)
    .call(d3.axisLeft(y).tickValues(ticks).tickSizeInner(4).tickSizeOuter(0).tickFormat(fmt));
  styleAxis(ax);
  ax.selectAll("text").attr("x", -gap / sx).attr("transform", `scale(${sx},1)`);
}

function xAxisDraw(g, x, y0, p) {
  const ax = g.append("g")
    .attr("transform", `translate(0,${y0})`)
    .call(d3.axisBottom(x).tickValues(p.ticks).tickSizeInner(4).tickSizeOuter(0)
      .tickFormat(d => `${p.chr}-${d}`));
  styleAxis(ax);
  ax.selectAll("text")
    .attr("x", null).attr("y", null).attr("dy", null)
    .attr("text-anchor", "end")
    .attr("transform", `translate(11,20) rotate(-45) scale(${sx},1)`);
}

panels.forEach(p => {
  const x = d3.scaleLinear().domain([0, p.xMax]).range([p.x0, p.x1]);

  // title
  svg.append("text")
    .attr("x", p.titleX).attr("y", 25)
    .attr("text-anchor", "middle")
    .attr("font-family", font).attr("font-weight", "bold").attr("font-size", "13px")
    .attr("textLength", p.titleW).attr("lengthAdjust", "spacingAndGlyphs")
    .text(p.title);

  // --- log ratio panel ---
  const yT = d3.scaleLinear().domain([-4.52, 2.60]).range(p.topY);
  const gT = svg.append("g");
  if (p.shade) {
    gT.append("rect").attr("x", p.x0).attr("y", p.topY[1] - 3)
      .attr("width", p.x1 - p.x0).attr("height", p.topY[0] - p.topY[1] + 3).attr("fill", p.shade);
  }
  gT.append("line")
    .attr("x1", x(0)).attr("x2", x(p.xMax))
    .attr("y1", yT(p.seg)).attr("y2", yT(p.seg))
    .attr("stroke", "#36dd36").attr("stroke-width", 6);
  gT.append("path")
    .datum(p.lrr)
    .attr("fill", "none").attr("stroke", "#111").attr("stroke-width", 1.6)
    .attr("d", d3.line().defined(d => d[1] !== null).x(d => x(d[0])).y(d => yT(d[1])));

  yAxisDraw(gT, yT, p, lrrTicks, d3.format(".2f"), p.gapTop);
  xAxisDraw(gT, x, p.topY[0], p);

  // --- B allele frequency panel ---
  const yB = d3.scaleLinear().domain([0, 1]).range(p.botY);
  const gB = svg.append("g");
  if (p.shade) {
    gB.append("rect").attr("x", p.x0).attr("y", p.botY[1] - 7)
      .attr("width", p.x1 - p.x0).attr("height", p.botY[0] - p.botY[1] + 7).attr("fill", p.shade);
  }
  // reference lines
  gB.append("rect").attr("x", x(0)).attr("width", x(p.xMax) - x(0))
    .attr("y", yB(0.60)).attr("height", yB(0.56) - yB(0.60)).attr("fill", "#d4f5cf");
  gB.append("rect").attr("x", x(0)).attr("width", x(p.xMax) - x(0))
    .attr("y", yB(0.44)).attr("height", yB(0.40) - yB(0.44)).attr("fill", "#d4f5cf");
  gB.selectAll("line.ref").data(bafLines).join("line")
    .attr("class", "ref")
    .attr("x1", x(0)).attr("x2", x(p.xMax))
    .attr("y1", d => yB(d)).attr("y2", d => yB(d))
    .attr("stroke", "#3cdc3c").attr("stroke-width", 2.5);
  gB.append("line")
    .attr("x1", x(0)).attr("x2", x(p.xMax))
    .attr("y1", yB(bafMid)).attr("y2", yB(bafMid))
    .attr("stroke", "#b4b4b4").attr("stroke-width", 3);

  const pts = [];
  p.hom.forEach(v => { pts.push([v, 1, "h"]); pts.push([v, 0, "h"]); });
  p.bands.forEach(b => b.forEach(d => pts.push([d[0], d[1], "t"])));
  p.out.forEach(d => pts.push(d));

  gB.selectAll("circle").data(pts).join("circle")
    .attr("cx", d => x(d[0]))
    .attr("cy", d => yB(d[1]))
    .attr("r", 3.2)
    .attr("fill", d => fills[d[2]])
    .attr("stroke", "#102a28")
    .attr("stroke-width", 1.25);

  yAxisDraw(gB, yB, p, bafTicks, d => d === 0 ? "0" : d3.format(".2f")(d), p.gapBot);
  xAxisDraw(gB, x, p.botY[0], p);
});
</script>
</body>
</html>
